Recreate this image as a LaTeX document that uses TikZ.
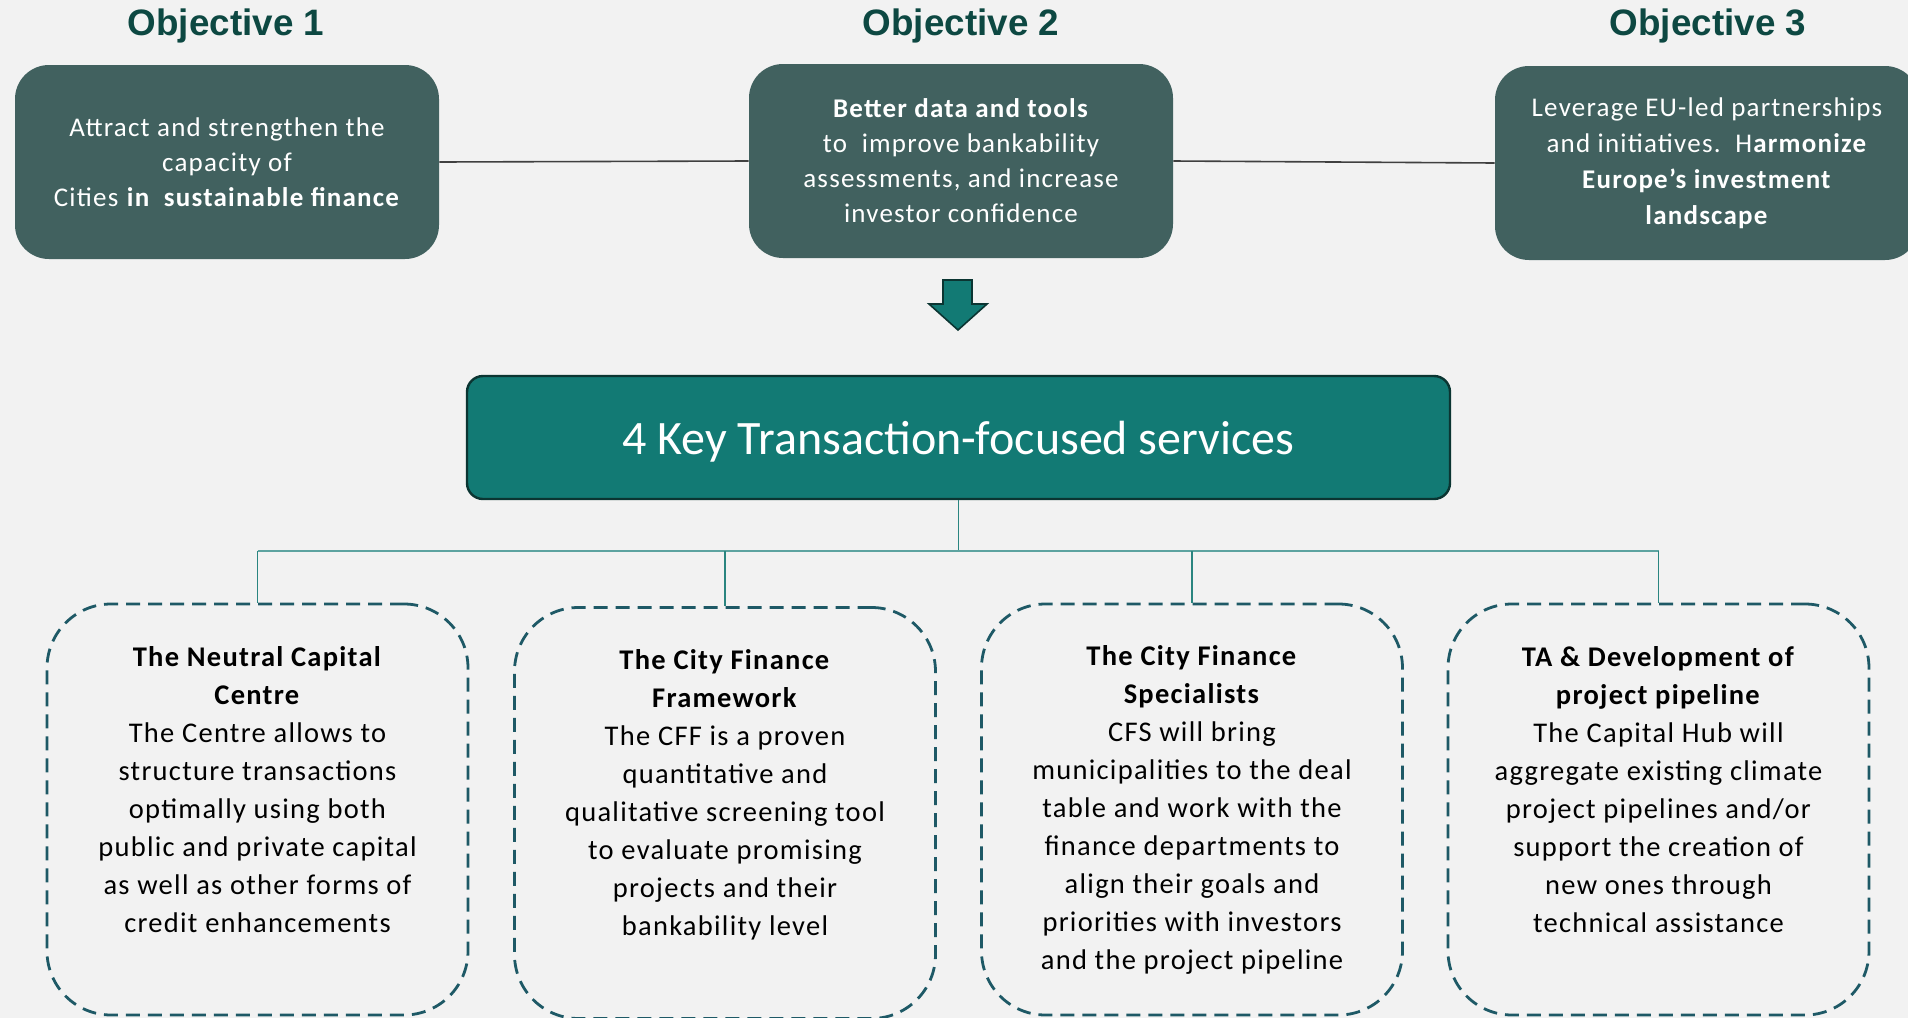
\documentclass[tikz,border=0pt]{standalone}
\usepackage{fontspec}
\setmainfont{Carlito}[LetterSpace=4.5]
\newfontfamily\plainfont{Carlito}
\newfontfamily\titlefont{Liberation Sans}
\definecolor{bgc}{HTML}{F2F2F2}
\definecolor{objfill}{HTML}{41615F}
\definecolor{titlec}{HTML}{0D4842}
\definecolor{mainfill}{HTML}{127A74}
\definecolor{mainborder}{HTML}{0B3532}
\definecolor{dashc}{HTML}{1E5966}
\definecolor{busc}{HTML}{5DA3A0}
\definecolor{dropc}{HTML}{2A8580}
\definecolor{objlinec}{HTML}{404040}
\begin{document}
\begin{tikzpicture}[x=0.5pt,y=-0.5pt,
  objbox/.style={fill=objfill, rounded corners=17pt, minimum width=212pt, minimum height=97pt,
    text=white, align=center, inner sep=0pt, font=\fontsize{13.5}{17.5}\selectfont},
  objtitle/.style={font=\titlefont\bfseries\fontsize{18.4}{22}\selectfont, text=titlec, anchor=base, inner sep=0pt},
  mainbox/.style={fill=mainfill, draw=mainborder, line width=1.2pt, rounded corners=8pt,
    minimum width=491.5pt, minimum height=61.5pt, inner sep=0pt},
  maintext/.style={text=white, inner sep=0pt, font=\plainfont\fontsize{24}{28}\selectfont},
  svcbox/.style={draw=dashc, dash pattern=on 7pt off 4pt, line width=1.4pt, rounded corners=32pt,
    minimum width=210.5pt, minimum height=205.5pt, inner sep=0pt},
  svctext/.style={align=center, font=\fontsize{14.25}{19}\selectfont, text=black, inner sep=0pt},
  objline/.style={draw=objlinec, line width=0.8pt},
  busline/.style={draw=busc, line width=1.1pt},
  dropline/.style={draw=dropc, line width=0.6pt},
  blockarrow/.style={fill=mainfill, draw=mainborder, line width=0.8pt}
]
\fill[bgc] (0,0) rectangle (1908,1018);
\useasboundingbox (0,0) rectangle (1908,1018);
\begin{scope}
\clip (0,0) rectangle (1908,1018);

% titles
\node[objtitle] (t1) at (226,35) {Objective 1};
\node[objtitle] (t2) at (961,35) {Objective 2};
\node[objtitle] (t3) at (1708,35) {Objective 3};

% objective boxes
\node[objbox] (o1) at (227,162) {Attract and strengthen the\\ capacity of\\ Cities \textbf{in\ \ sustainable finance}};
\node[objbox] (o2) at (961,161) {\textbf{Better data and tools}\\ to\ \ improve bankability\\ assessments, and increase\\ investor confidence};
\node[objbox, font=\fontsize{13.5}{18}\selectfont] (o3) at (1707,163) {Leverage EU-led partnerships\\ and initiatives.\ \ H\textbf{armonize}\\ \textbf{Europe’s investment}\\ \textbf{landscape}};

\draw[objline] (o1.east) -- (o2.west);
\draw[objline] (o2.east) -- (o3.west);

% block arrow
\draw[blockarrow] (943,280) -- (972,280) -- (972,304) -- (987,304) -- (958,330) -- (929,304) -- (943,304) -- cycle;

% main box
\node[mainbox] (main) at (958.5,437.5) {};
\node[maintext] (mt) at (958.5,442) {4 Key Transaction-focused services};

% service boxes
\node[svcbox] (s1) at (257.5,809.5) {};
\node[svcbox] (s2) at (725,813) {};
\node[svcbox] (s3) at (1192,809.5) {};
\node[svcbox] (s4) at (1658.5,809.5) {};

\node[svctext] (x1) at (257.5,790) {\textbf{The Neutral Capital}\\ \textbf{Centre}\\ The Centre allows to\\ structure transactions\\ optimally using both\\ public and private capital\\ as well as other forms of\\ credit enhancements};
\node[svctext] (x2) at (725,795) {\textbf{The City Finance}\\ \textbf{Framework}\\ The CFF is a proven\\ quantitative and\\ qualitative screening tool\\ to evaluate promising\\ projects and their\\ bankability level};
\node[svctext] (x3) at (1192,810) {\textbf{The City Finance}\\ \textbf{Specialists}\\ CFS will bring\\ municipalities to the deal\\ table and work with the\\ finance departments to\\ align their goals and\\ priorities with investors\\ and the project pipeline};
\node[svctext] (x4) at (1658.5,790) {\textbf{TA \& Development of}\\ \textbf{project pipeline}\\ The Capital Hub will\\ aggregate existing climate\\ project pipelines and/or\\ support the creation of\\ new ones through\\ technical assistance};

% connectors
\coordinate (bus) at (959,551);
\draw[dropline] (main.south) -- (main.south |- bus);
\draw[busline] (s1.north |- bus) -- (s4.north |- bus);
\draw[dropline] (s1.north |- bus) -- (s1.north);
\draw[dropline] (s2.north |- bus) -- (s2.north);
\draw[dropline] (s3.north |- bus) -- (s3.north);
\draw[dropline] (s4.north |- bus) -- (s4.north);
\end{scope}
\end{tikzpicture}
\end{document}
